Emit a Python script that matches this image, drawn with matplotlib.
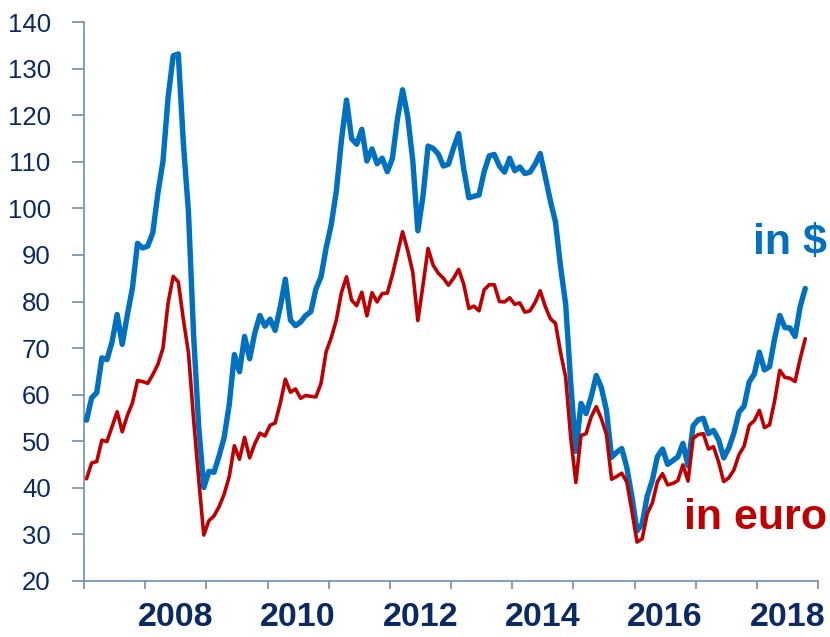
import matplotlib
matplotlib.use("Agg")
import matplotlib.pyplot as plt
import numpy as np

# Brent oil price, monthly averages, Jan 2007 - Oct 2018
usd = [
    54.5, 59.3, 60.4, 67.9, 67.5, 71.3, 77.2, 70.8, 77.1, 82.9, 92.5, 91.5,      # 2007
    91.9, 94.8, 103.3, 110.2, 123.9, 132.8, 133.2, 113.9, 99.1, 72.8, 53.2, 40.0,  # 2008
    43.5, 43.3, 46.8, 50.8, 57.9, 68.6, 64.9, 72.5, 67.7, 73.2, 77.0, 74.7,      # 2009
    76.2, 73.8, 78.8, 84.8, 76.0, 74.8, 75.6, 77.0, 77.8, 82.7, 85.3, 91.5,      # 2010
    96.5, 103.7, 114.6, 123.3, 115.0, 113.8, 117.0, 110.2, 112.8, 109.6, 110.8, 107.9,  # 2011
    110.7, 119.3, 125.5, 119.8, 110.3, 95.2, 102.6, 113.4, 112.9, 111.7, 109.1, 109.5,  # 2012
    113.0, 116.1, 108.5, 102.3, 102.6, 102.9, 107.9, 111.3, 111.6, 109.1, 107.8, 110.8,  # 2013
    108.1, 108.9, 107.5, 107.8, 109.5, 111.8, 106.8, 101.6, 97.1, 87.4, 79.4, 62.3,  # 2014
    47.8, 58.1, 55.9, 59.5, 64.1, 61.5, 56.6, 46.5, 47.6, 48.4, 44.3, 38.0,      # 2015
    30.7, 32.2, 38.2, 41.6, 46.7, 48.3, 45.0, 45.8, 46.6, 49.5, 44.7, 53.3,      # 2016
    54.6, 54.9, 51.6, 52.3, 50.3, 46.4, 48.5, 51.7, 56.2, 57.5, 62.7, 64.4,      # 2017
    69.1, 65.3, 66.0, 72.1, 77.0, 74.4, 74.3, 72.5, 78.9, 82.8,                  # 2018
]
eur = [
    41.9, 45.3, 45.6, 50.2, 49.9, 53.1, 56.3, 52.0, 55.5, 58.2, 63.0, 62.8,      # 2007
    62.4, 64.3, 66.5, 70.0, 79.7, 85.4, 84.2, 76.1, 68.9, 54.7, 41.8, 29.8,      # 2008
    32.9, 33.9, 35.9, 38.6, 42.4, 49.0, 46.1, 50.8, 46.4, 49.4, 51.7, 51.1,      # 2009
    53.4, 53.9, 58.1, 63.3, 60.5, 61.2, 59.2, 59.8, 59.6, 59.5, 62.4, 69.2,      # 2010
    72.2, 76.0, 81.9, 85.3, 80.3, 79.1, 82.0, 76.9, 81.9, 79.9, 81.7, 81.8,      # 2011
    85.7, 90.3, 95.0, 91.0, 86.3, 75.9, 83.5, 91.4, 87.8, 86.1, 85.0, 83.5,      # 2012
    85.0, 86.9, 83.7, 78.5, 79.0, 78.0, 82.5, 83.6, 83.6, 80.0, 79.9, 80.8,      # 2013
    79.4, 79.7, 77.7, 78.0, 79.8, 82.3, 78.9, 76.3, 75.3, 69.0, 63.7, 50.6,      # 2014
    41.1, 51.2, 51.6, 55.2, 57.4, 54.8, 51.4, 41.8, 42.4, 43.1, 41.2, 34.9,      # 2015
    28.3, 29.0, 34.4, 36.7, 41.3, 43.0, 40.6, 40.9, 41.5, 44.9, 41.4, 50.6,      # 2016
    51.4, 51.6, 48.3, 48.8, 45.5, 41.3, 42.1, 43.8, 47.1, 48.9, 53.4, 54.4,      # 2017
    56.6, 52.9, 53.5, 58.7, 65.2, 63.7, 63.5, 62.8, 67.7, 72.0,                  # 2018
]
start_year = 2007
end_year = 2019
year_labels = ["2008", "2010", "2012", "2014", "2016", "2018"]
y_ticks = list(range(20, 141, 10))
label_usd = "in $"
label_eur = "in euro"

BLUE = "#0070C0"
RED = "#C00000"
NAVY = "#0B2A63"
AXIS = "#6F8DB5"
FONT = ["Liberation Sans", "DejaVu Sans"]

plt.rcParams["font.family"] = FONT

fig = plt.figure(figsize=(8.30, 6.37), dpi=100)
ax = fig.add_axes([84 / 830, 1 - 580.7 / 637, (818 - 84) / 830, (580.7 - 22.3) / 637])

x = np.arange(len(usd)) + 0.5
ax.plot(x, usd, color=BLUE, lw=3.9, solid_joinstyle="round", solid_capstyle="round", zorder=3)
ax.plot(x, eur, color=RED, lw=2.6, solid_joinstyle="round", solid_capstyle="round", zorder=4)

nmonths = (end_year - start_year) * 12
ax.set_xlim(0, nmonths)
ax.set_ylim(20, 140)

ax.set_xticks(np.arange(0, nmonths + 1, 12))
ax.set_xticklabels([])
minor_pos = [(int(y) - start_year) * 12 + 6 for y in year_labels]
ax.set_xticks(minor_pos, minor=True)
ax.set_xticklabels(year_labels, minor=True)
ax.tick_params(axis="x", which="major", direction="out", length=6, width=1.2, color=AXIS)
ax.tick_params(axis="x", which="minor", length=0, pad=15, labelsize=24.5, labelcolor=NAVY)
for t in ax.get_xticklabels(minor=True):
    t.set_fontweight("bold")

ax.set_yticks(y_ticks)
ax.set_yticklabels([str(v) for v in y_ticks])
ax.tick_params(axis="y", direction="out", length=9, width=1.2, color=AXIS, pad=15,
               labelsize=18.5, labelcolor=NAVY)

for s in ["top", "right"]:
    ax.spines[s].set_visible(False)
for s in ["left", "bottom"]:
    ax.spines[s].set_color(AXIS)
    ax.spines[s].set_linewidth(1.2)

fig.text(827 / 830, 1 - 243 / 637, label_usd, color=BLUE, fontsize=31, fontweight="bold",
         ha="right", va="center")
fig.text(827 / 830, 1 - 518 / 637, label_eur, color=RED, fontsize=31, fontweight="bold",
         ha="right", va="center")

fig.savefig("out.png", dpi=100)
